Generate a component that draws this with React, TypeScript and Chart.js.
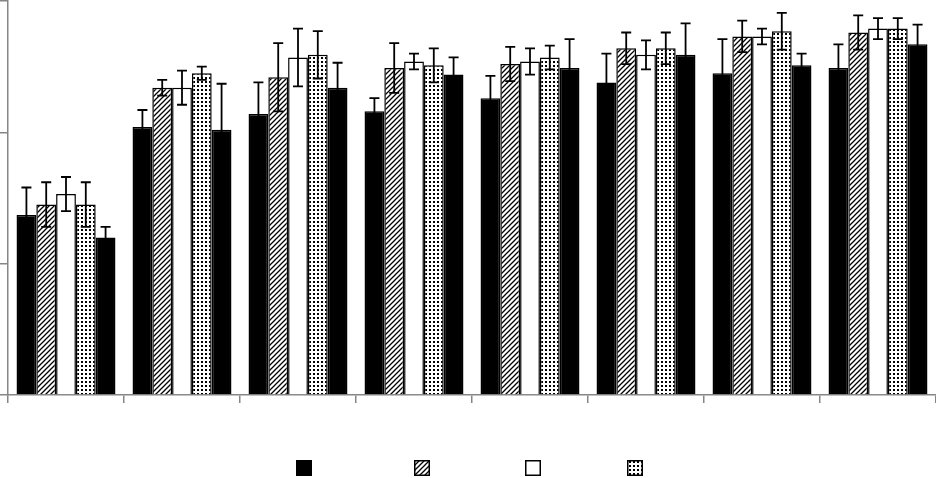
import { useEffect, useRef } from "react"
import { Chart, registerables } from "chart.js"

Chart.register(...registerables)

// Categories (no visible labels in the original)
const categories = ["1", "2", "3", "4", "5", "6", "7", "8"]
const seriesNames = ["A", "B", "C", "D", "E"]

// Series values (axis 0..3)
const seriesA = [1.37, 2.04, 2.14, 2.16, 2.26, 2.38, 2.45, 2.49]
const seriesB = [1.45, 2.34, 2.42, 2.49, 2.52, 2.64, 2.73, 2.76]
const seriesC = [1.53, 2.34, 2.57, 2.54, 2.54, 2.59, 2.73, 2.79]
const seriesD = [1.45, 2.45, 2.59, 2.51, 2.57, 2.64, 2.77, 2.79]
const seriesE = [1.2, 2.02, 2.34, 2.44, 2.49, 2.59, 2.51, 2.67]

// Error bar half-lengths
const errA = [0.21, 0.13, 0.24, 0.1, 0.17, 0.22, 0.26, 0.18]
const errB = [0.17, 0.06, 0.26, 0.19, 0.13, 0.12, 0.12, 0.13]
const errC = [0.13, 0.13, 0.22, 0.06, 0.1, 0.11, 0.06, 0.08]
const errD = [0.17, 0.05, 0.18, 0.13, 0.09, 0.12, 0.14, 0.08]
const errE = [0.08, 0.35, 0.19, 0.13, 0.22, 0.24, 0.09, 0.15]

const yTicks = [0, 1, 2, 3]

const AXIS = "#868686"

function makeHatch(): CanvasPattern | string {
  const c = document.createElement("canvas")
  c.width = 5
  c.height = 5
  const g = c.getContext("2d")
  if (!g) return "#fff"
  g.fillStyle = "#fff"
  g.fillRect(0, 0, 5, 5)
  g.strokeStyle = "#000"
  g.lineWidth = 1.3
  g.beginPath()
  g.moveTo(-1, 6)
  g.lineTo(6, -1)
  g.moveTo(-1, 1)
  g.lineTo(1, -1)
  g.moveTo(4, 6)
  g.lineTo(6, 4)
  g.stroke()
  return g.createPattern(c, "repeat") || "#fff"
}

function makeDots(): CanvasPattern | string {
  const c = document.createElement("canvas")
  c.width = 4
  c.height = 4
  const g = c.getContext("2d")
  if (!g) return "#fff"
  g.fillStyle = "#fff"
  g.fillRect(0, 0, 4, 4)
  g.fillStyle = "#000"
  g.fillRect(1, 1, 2, 2)
  return g.createPattern(c, "repeat") || "#fff"
}

// Error bars drawn through the bar elements and the y scale
const errorBarPlugin = {
  id: "errorBars",
  afterDatasetsDraw(chart: Chart) {
    const ctx = chart.ctx
    const y = chart.scales.y
    ctx.save()
    ctx.strokeStyle = "#000"
    ctx.lineWidth = 1.8
    chart.data.datasets.forEach((ds: any, i: number) => {
      const meta = chart.getDatasetMeta(i)
      meta.data.forEach((bar: any, j: number) => {
        const v = ds.data[j] as number
        const e = ds.errors[j] as number
        const top = y.getPixelForValue(v + e)
        const bot = y.getPixelForValue(v - e)
        ctx.beginPath()
        ctx.moveTo(bar.x, top)
        ctx.lineTo(bar.x, bot)
        ctx.moveTo(bar.x - 5, top)
        ctx.lineTo(bar.x + 5, top)
        ctx.moveTo(bar.x - 5, bot)
        ctx.lineTo(bar.x + 5, bot)
        ctx.stroke()
      })
    })
    ctx.restore()
  },
}

// Legend boxes without text, first four series only
const LEGEND_LEFTS = [-172, -54, 57, 159]
const legendPlugin = {
  id: "boxLegend",
  afterDraw(chart: Chart) {
    const ctx = chart.ctx
    const cx = chart.width / 2
    ctx.save()
    for (let i = 0; i < 4; i++) {
      const ds: any = chart.data.datasets[i]
      const x = cx + LEGEND_LEFTS[i]
      const yTop = 460
      ctx.fillStyle = ds.backgroundColor
      ctx.fillRect(x, yTop, 16, 16)
      ctx.strokeStyle = "#000"
      ctx.lineWidth = 1.5
      ctx.strokeRect(x + 0.75, yTop + 0.75, 14.5, 14.5)
    }
    ctx.restore()
  },
}

export default function App() {
  const chartRef = useRef<HTMLCanvasElement>(null)
  const chartInstance = useRef<Chart | null>(null)

  useEffect(() => {
    if (!chartRef.current) return
    if (chartInstance.current) chartInstance.current.destroy()
    const ctx = chartRef.current.getContext("2d")
    if (!ctx) return

    const hatch = makeHatch()
    const dots = makeDots()
    const values = [seriesA, seriesB, seriesC, seriesD, seriesE]
    const errors = [errA, errB, errC, errD, errE]
    const fills = ["#000", hatch, "#fff", dots, "#000"]

    chartInstance.current = new Chart(ctx, {
      type: "bar",
      data: {
        labels: categories,
        datasets: values.map((data, i) => ({
          label: seriesNames[i],
          data,
          errors: errors[i],
          backgroundColor: fills[i],
          borderColor: "#000",
          borderWidth: 1.5,
          barPercentage: 1,
          categoryPercentage: 0.853,
        })) as any,
      },
      options: {
        responsive: false,
        animation: false,
        layout: { padding: { left: 0, right: 0, top: 1, bottom: 75 } },
        scales: {
          x: {
            ticks: { display: false },
            grid: {
              drawOnChartArea: false,
              drawTicks: true,
              tickLength: 8,
              color: AXIS,
              lineWidth: 1.5,
            },
            border: { color: AXIS, width: 1.5 },
          },
          y: {
            min: yTicks[0],
            max: yTicks[yTicks.length - 1],
            ticks: { display: false, stepSize: 1 },
            grid: {
              drawOnChartArea: false,
              drawTicks: true,
              tickLength: 8,
              color: AXIS,
              lineWidth: 1.5,
            },
            border: { color: AXIS, width: 1.5 },
          },
        },
        plugins: {
          legend: { display: false },
          tooltip: { enabled: false },
        },
      },
      plugins: [errorBarPlugin, legendPlugin],
    })

    return () => {
      if (chartInstance.current) {
        chartInstance.current.destroy()
        chartInstance.current = null
      }
    }
  }, [])

  return (
    <div style={{ position: "absolute", left: 0, top: 0, width: 936, height: 478, background: "#fff" }}>
      <canvas ref={chartRef} width={936} height={478} style={{ display: "block" }} />
    </div>
  )
}
